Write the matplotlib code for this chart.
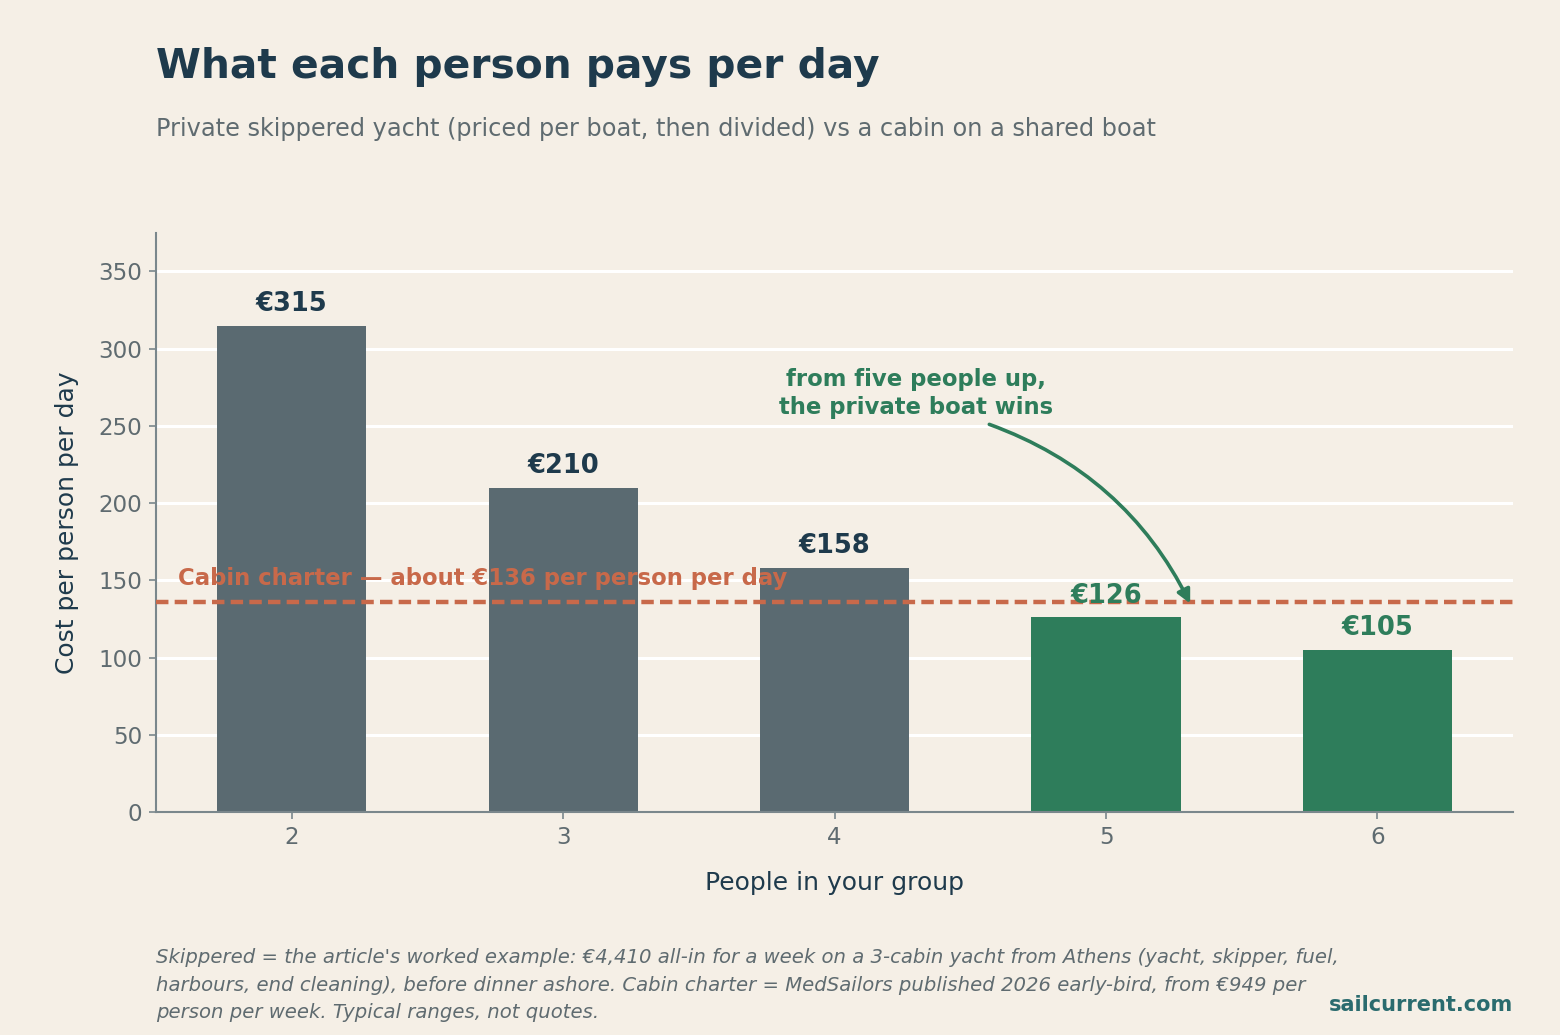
import matplotlib
matplotlib.use("Agg")
import matplotlib.pyplot as plt

# data
group_sizes = [2, 3, 4, 5, 6]
cost_per_person = [315, 210, 158, 126, 105]
bar_labels = ["€315", "€210", "€158", "€126", "€105"]
cabin_cost = 136

BG = "#F5EFE6"
NAVY = "#1E3A4C"
GREY_BAR = "#5A6A71"
GREEN = "#2E7D5B"
ORANGE = "#C8694A"
MUTED = "#5F6B70"
AXIS = "#7A878C"

plt.rcParams["font.family"] = ["DejaVu Sans"]

fig = plt.figure(figsize=(15.6, 10.35), dpi=100, facecolor=BG)
ax = fig.add_axes([0.1, 0.2155, 0.87, 0.5595], facecolor=BG)

colors = [GREEN if n >= 5 else GREY_BAR for n in group_sizes]
ax.bar(group_sizes, cost_per_person, width=0.55, color=colors, zorder=2)

# value labels on top of bars
for n, v, lab, c in zip(group_sizes, cost_per_person, bar_labels, colors):
    txt_col = GREEN if c == GREEN else NAVY
    ax.annotate(lab, (n, v), xytext=(0, 15.5), textcoords="offset points",
                ha="center", va="center", fontsize=18.5, fontweight="bold",
                color=txt_col, zorder=5)

# cabin charter reference line
ax.axhline(cabin_cost, color=ORANGE, lw=3.2, dashes=(2.8, 1.4), zorder=3)
ax.text(1.58, 151, "Cabin charter — about €136 per person per day",
        ha="left", va="center", fontsize=16.4, fontweight="bold",
        color=ORANGE, zorder=4)

# annotation
ax.text(4.3, 271, "from five people up,\nthe private boat wins", ha="center",
        va="center", fontsize=16.4, fontweight="bold", color=GREEN,
        linespacing=1.25, zorder=5)
ax.annotate("", xy=(5.31, 135), xytext=(4.57, 251),
            arrowprops=dict(arrowstyle="-|>", color=GREEN, lw=2.6,
                            mutation_scale=20, shrinkA=0, shrinkB=0,
                            connectionstyle="arc3,rad=-0.2"), zorder=5)

ax.set_xlim(1.5, 6.5)
ax.set_ylim(0, 375)
ax.set_xticks(group_sizes)
ax.set_yticks(range(0, 351, 50))
ax.grid(axis="y", color="white", lw=2.2, zorder=0)
ax.set_axisbelow(True)
for s in ["top", "right"]:
    ax.spines[s].set_visible(False)
for s in ["left", "bottom"]:
    ax.spines[s].set_color(AXIS)
    ax.spines[s].set_linewidth(1.5)
ax.tick_params(colors=MUTED, labelsize=16.6, length=5, width=1.2, pad=5)
ax.tick_params(axis="both", color=AXIS)

ax.set_xlabel("People in your group", fontsize=18, color=NAVY, labelpad=16)
ax.set_ylabel("Cost per person per day", fontsize=18, color=NAVY, labelpad=14)

fig.text(0.1, 0.935, "What each person pays per day", fontsize=29.3,
         fontweight="bold", color=NAVY, ha="left", va="center")
fig.text(0.1, 0.875,
         "Private skippered yacht (priced per boat, then divided) vs a cabin on a shared boat",
         fontsize=17.3, color=MUTED, ha="left", va="center")

fig.text(0.1, 0.084,
         "Skippered = the article's worked example: €4,410 all-in for a week on a 3-cabin yacht from Athens (yacht, skipper, fuel,\n"
         "harbours, end cleaning), before dinner ashore. Cabin charter = MedSailors published 2026 early-bird, from €949 per\n"
         "person per week. Typical ranges, not quotes.",
         fontsize=14.1, style="italic", color=MUTED, ha="left", va="top",
         linespacing=1.58)
fig.text(0.97, 0.029, "sailcurrent.com", fontsize=15, fontweight="bold",
         color="#2A6B6E", ha="right", va="center")

fig.savefig("out.png", dpi=100, facecolor=BG)
